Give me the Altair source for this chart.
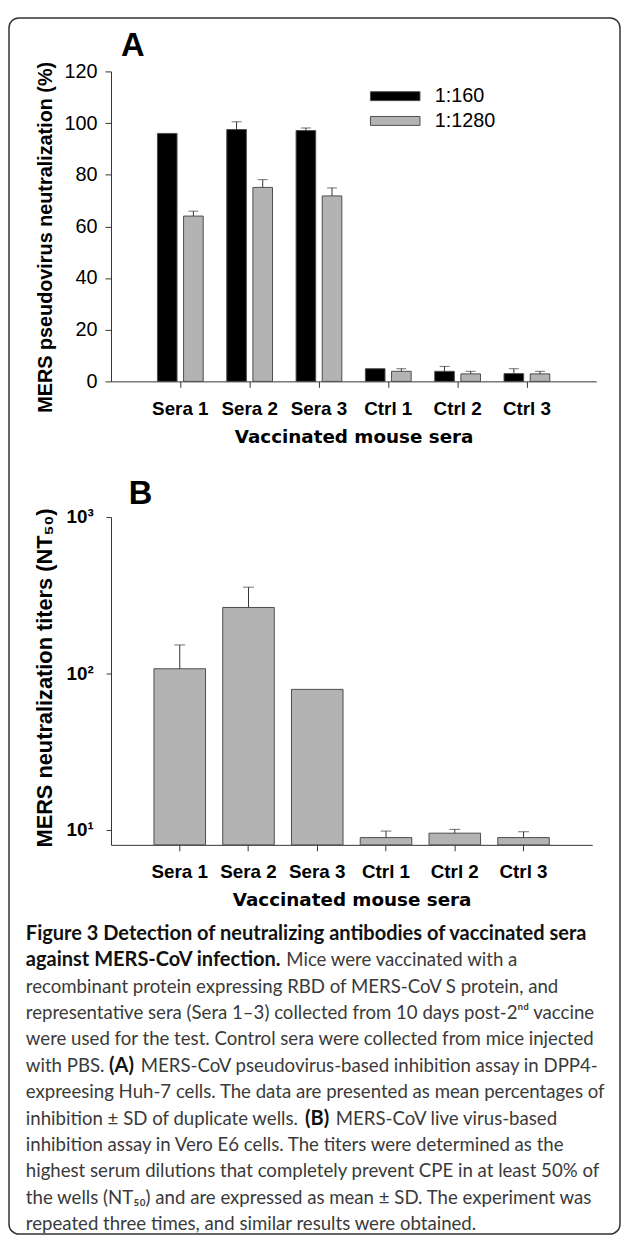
import altair as alt
import pandas as pd

# ---------------- data ----------------
categories = ["Sera 1", "Sera 2", "Sera 3", "Ctrl 1", "Ctrl 2", "Ctrl 3"]
dilutions = ["1:160", "1:1280"]
neut_160 = [96.0, 97.5, 97.1, 4.9, 3.9, 3.0]
sd_160 = [0.0, 3.0, 1.0, 0.0, 1.9, 1.9]
neut_1280 = [64.0, 75.1, 71.8, 3.9, 2.9, 2.9]
sd_1280 = [1.9, 3.0, 3.1, 1.0, 1.0, 1.0]
nt50 = [107.0, 264.0, 79.0, 8.9, 9.5, 8.9]
nt50_sd = [45.0, 92.0, 0.0, 0.9, 0.55, 0.8]
y_ticks_a = [0, 20, 40, 60, 80, 100, 120]
y_ticks_b = [10, 100, 1000]

caption = [
    [("Figure 3 Detection of neutralizing antibodies of vaccinated sera", True, 0)],
    [("against MERS-CoV infection.", True, 0), ("Mice were vaccinated with a", False, 263)],
    [("recombinant protein expressing RBD of MERS-CoV S protein, and", False, 0)],
    [("representative sera (Sera 1\u20133) collected from 10 days post-2\u207f\u1d48 vaccine", False, 0)],
    [("were used for the test. Control sera were collected from mice injected", False, 0)],
    [("with PBS.", False, 0), ("(A)", True, 84), ("MERS-CoV pseudovirus-based inhibition assay in DPP4-", False, 116)],
    [("expreesing Huh-7 cells. The data are presented as mean percentages of", False, 0)],
    [("inhibition \u00b1 SD of duplicate wells.", False, 0), ("(B)", True, 282), ("MERS-CoV live virus-based", False, 313)],
    [("inhibition assay in Vero E6 cells. The titers were determined as the", False, 0)],
    [("highest serum dilutions that completely prevent CPE in at least 50% of", False, 0)],
    [("the wells (NT\u2085\u2080) and are expressed as mean \u00b1 SD. The experiment was", False, 0)],
    [("repeated three times, and similar results were obtained.", False, 0)],
]

# ---------------- tables ----------------
rows_a = []
for i, c in enumerate(categories):
    rows_a.append({"cat": c, "dil": dilutions[0], "val": neut_160[i], "sd": sd_160[i], "top": neut_160[i] + sd_160[i]})
    rows_a.append({"cat": c, "dil": dilutions[1], "val": neut_1280[i], "sd": sd_1280[i], "top": neut_1280[i] + sd_1280[i]})
df_a = pd.DataFrame(rows_a)
df_b = pd.DataFrame({"cat": categories, "val": nt50, "sd": nt50_sd,
                     "top": [v + s for v, s in zip(nt50, nt50_sd)]})
cap_rows = []
for li, segs in enumerate(caption):
    for text, bold, xs in segs:
        cap_rows.append({"line": li, "text": text, "bold": bold, "xs": xs})
df_cap = pd.DataFrame(cap_rows)

AX = "#333333"
ARIAL = "Liberation Sans"

# ---------------- panel A ----------------
xA = alt.X("cat:N", sort=categories,
           scale=alt.Scale(paddingInner=0.34, paddingOuter=0.67),
           title="Vaccinated mouse sera",
           axis=alt.Axis(labelAngle=0, tickSize=6, labelPadding=12, labelFont=ARIAL,
                         labelFontSize=19, labelFontWeight="bold", labelColor="#000",
                         labelOverlap=False, domainColor=AX, tickColor=AX,
                         titleFont="DejaVu Sans", titleFontSize=18.5, titleFontWeight="bold",
                         titleColor="#000", titleBaseline="middle", titleY=56))
xoffA = alt.XOffset("dil:N", sort=dilutions, scale=alt.Scale(paddingInner=0.25, paddingOuter=0))
axisYA = alt.Axis(values=y_ticks_a, tickSize=6, labelPadding=8, labelFont=ARIAL, labelFontSize=20,
                  labelColor="#000", grid=False, domainColor=AX, tickColor=AX,
                  titleFont=ARIAL, titleFontSize=20, titleFontWeight="bold", titleColor="#000",
                  titleX=-56, titleY=167, titleBaseline="bottom")
scaleYA = alt.Scale(domain=[0, 120], nice=False)
titleA = "MERS pseudovirus neutralization (%)"

barsA = alt.Chart(df_a).mark_bar(stroke="#4d4d4d", strokeWidth=1).encode(
    x=xA, xOffset=xoffA,
    y=alt.Y("val:Q", scale=scaleYA, axis=axisYA, title=titleA),
    fill=alt.Fill("dil:N", sort=dilutions,
                  scale=alt.Scale(domain=dilutions, range=["#000000", "#b3b3b3"]),
                  legend=alt.Legend(title=None, orient="none", legendX=257, legendY=15,
                                    symbolType="M-1,-0.9H9V0.9H-1Z", symbolSize=100,
                                    symbolStrokeColor="#4d4d4d", symbolStrokeWidth=1,
                                    labelFont=ARIAL, labelFontSize=20, labelColor="#000",
                                    labelOffset=50, rowPadding=5)),
)
errA = alt.Chart(df_a).transform_filter("datum.sd > 0").mark_rule(color=AX, strokeWidth=1).encode(
    x=xA, xOffset=xoffA,
    y=alt.Y("val:Q", scale=scaleYA, axis=axisYA, title=titleA), y2="top:Q")
capA = alt.Chart(df_a).transform_filter("datum.sd > 0").mark_tick(
    color=AX, thickness=1, size=10, orient="horizontal").encode(
    x=xA, xOffset=xoffA,
    y=alt.Y("top:Q", scale=scaleYA, axis=axisYA, title=titleA))
labA = alt.Chart(pd.DataFrame({"t": ["A"]})).mark_text(
    font=ARIAL, fontWeight="bold", fontSize=33, align="left", baseline="alphabetic", color="#000"
).encode(text="t:N", x=alt.value(10), y=alt.value(-16))

panelA = alt.layer(barsA, errA, capA, labA).properties(width=490, height=313)

# ---------------- panel B ----------------
xB = alt.X("cat:N", sort=categories,
           scale=alt.Scale(paddingInner=0.25, paddingOuter=0.625),
           title="Vaccinated mouse sera",
           axis=alt.Axis(labelAngle=0, tickSize=6, labelPadding=12, labelFont=ARIAL,
                         labelFontSize=19, labelFontWeight="bold", labelColor="#000",
                         labelOverlap=False, domainColor=AX, tickColor=AX,
                         titleFont="DejaVu Sans", titleFontSize=18.5, titleFontWeight="bold",
                         titleColor="#000", titleBaseline="middle", titleY=55))
axisYB = alt.Axis(values=y_ticks_b, tickSize=5, labelPadding=13, labelFont=ARIAL, labelFontSize=19,
                  labelFontWeight="bold", labelColor="#000", grid=False, domainColor=AX, tickColor=AX,
                  labelExpr="datum.value == 10 ? '10\u00b9' : datum.value == 100 ? '10\u00b2' : '10\u00b3'",
                  titleFont=ARIAL, titleFontSize=22, titleFontWeight="bold", titleColor="#000",
                  titleX=-55, titleY=162, titleBaseline="bottom")
scaleYB = alt.Scale(type="log", domain=[8, 1000], nice=False)
titleB = "MERS neutralization titers (NT\u2085\u2080)"

barsB = alt.Chart(df_b).mark_bar(color="#b3b3b3", stroke="#4d4d4d", strokeWidth=1).encode(
    x=xB, y=alt.Y("val:Q", scale=scaleYB, axis=axisYB, title=titleB), y2=alt.datum(8))
errB = alt.Chart(df_b).transform_filter("datum.sd > 0").mark_rule(color=AX, strokeWidth=1).encode(
    x=xB, y=alt.Y("val:Q", scale=scaleYB, axis=axisYB, title=titleB), y2="top:Q")
capB = alt.Chart(df_b).transform_filter("datum.sd > 0").mark_tick(
    color=AX, thickness=1, size=11, orient="horizontal").encode(
    x=xB, y=alt.Y("top:Q", scale=scaleYB, axis=axisYB, title=titleB))
plotB = alt.layer(barsB, errB, capB)

labB = alt.Chart(pd.DataFrame({"t": ["B"]})).mark_text(
    font=ARIAL, fontWeight="bold", fontSize=33, align="left", baseline="alphabetic", color="#000"
).encode(text="t:N", x=alt.value(18), y=alt.value(-13))

capX = alt.X("xs:Q", scale=alt.Scale(domain=[0, 600], range=[-86, 514]), axis=None)
capY = alt.Y("line:Q", scale=alt.Scale(domain=[0, 11], range=[421, 714]), axis=None)
capNormal = alt.Chart(df_cap).transform_filter("!datum.bold").mark_text(
    font="Lato", fontSize=18.8, align="left", baseline="middle", color="#3a3a3a"
).encode(x=capX, y=capY, text="text:N")
capBold = alt.Chart(df_cap).transform_filter("datum.bold").mark_text(
    font="Lato", fontSize=20.2, fontWeight="bold", align="left", baseline="middle", color="#111"
).encode(x=capX, y=capY, text="text:N")

border = alt.Chart(pd.DataFrame({"a": [0]})).mark_rect(
    fillOpacity=0, stroke="#333", strokeWidth=1.5, cornerRadius=10
).encode(x=alt.value(-103), x2=alt.value(514), y=alt.value(-504), y2=alt.value(724))

panelB = alt.layer(plotB, labB, capNormal, capBold, border).resolve_scale(
    x="independent", y="independent").properties(width=486, height=331)

chart = alt.vconcat(panelA, panelB, spacing=137, bounds="flush").properties(
    padding={"left": 0, "top": 3, "right": 0, "bottom": 0}
).configure_view(stroke=None)

chart.save("out.html", embed_options={"renderer": "svg", "actions": False})
